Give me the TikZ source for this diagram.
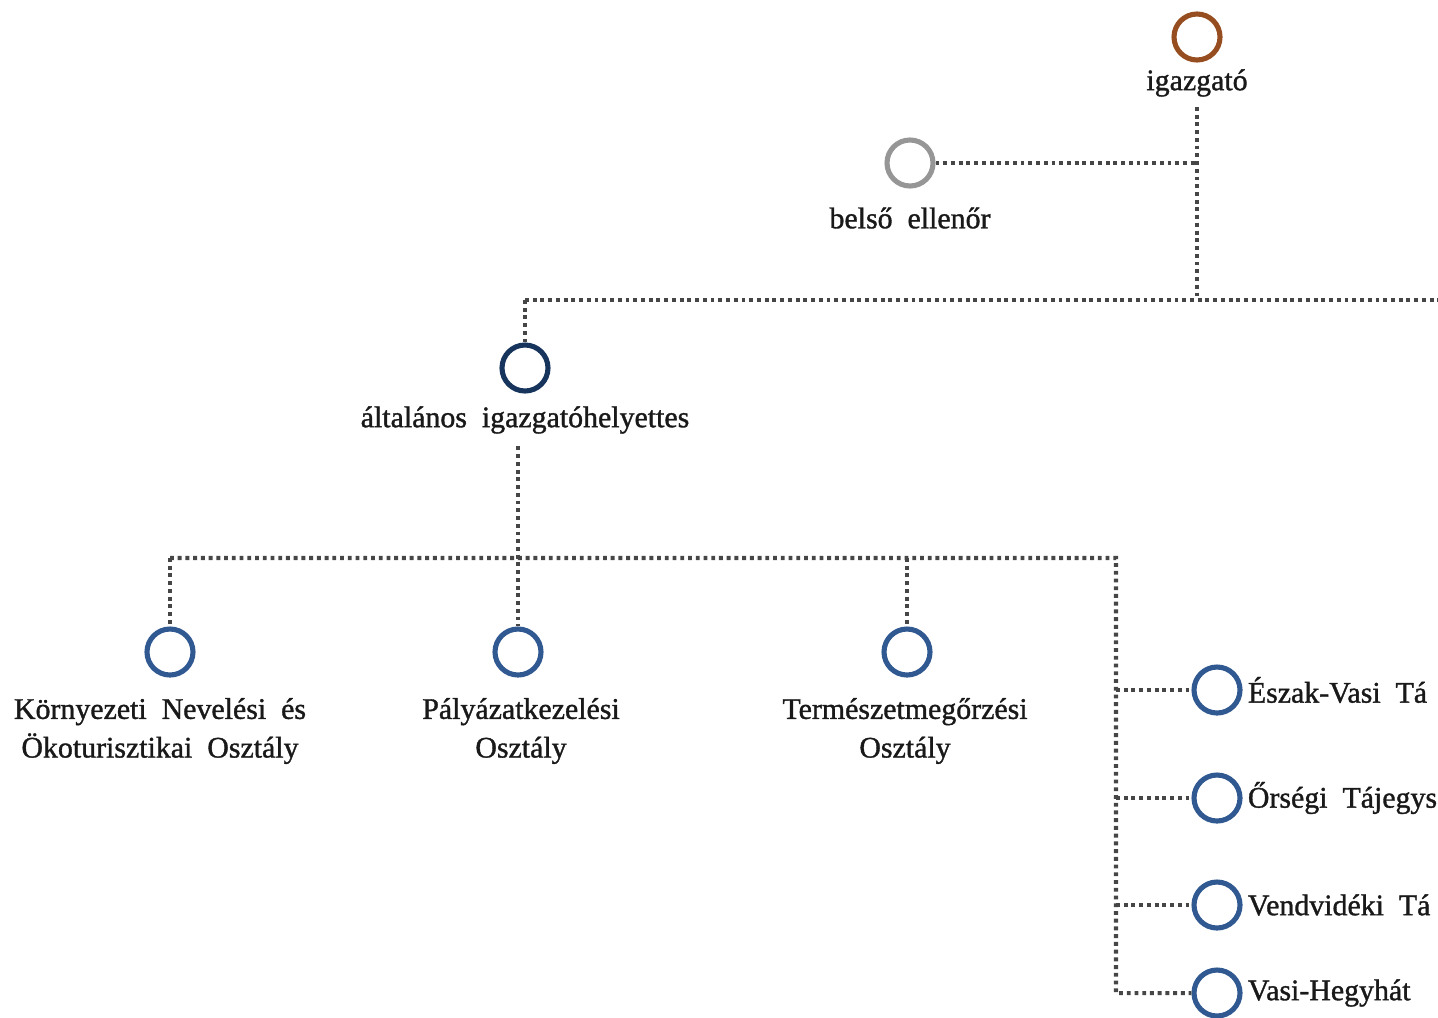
\documentclass[tikz,border=0pt]{standalone}
\usepackage{fontspec}
\setmainfont{Liberation Serif}
\newfontfamily\labelfont[FakeBold=1.2]{Liberation Serif}
\usetikzlibrary{positioning}

\definecolor{igbrown}{RGB}{150,78,32}
\definecolor{ellgrey}{RGB}{150,150,150}
\definecolor{helynavy}{RGB}{22,52,92}
\definecolor{osztblue}{RGB}{48,88,145}
\definecolor{linegrey}{RGB}{70,70,70}

\tikzset{
  unit/.style={circle,draw,line width=2.9pt,minimum size=0.92cm,inner sep=0pt},
  unittext/.style={font=\labelfont\fontsize{17}{22}\selectfont,text=black!90,align=center,inner sep=0pt},
  link/.style={draw=linegrey,line width=2.3pt,dash pattern=on 2.2pt off 2.2pt}
}

\begin{document}
\begin{tikzpicture}[on grid,auto]
	\useasboundingbox (0,0) rectangle (28.76,-20.34);
	% vezetes
	\node[unit,draw=igbrown] (igazgato) at (23.94,-0.74) {};
	\node[unittext] [below=0.92cm of igazgato] (igazgato-t) {igazgató};
	\node[unit,draw=ellgrey] [below left=2.52cm and 5.74cm of igazgato] (belso) {};
	\node[unittext] [below=1.1cm of belso] (belso-t) {belső\ \ ellenőr};
	\node[unit,draw=helynavy] [below left=6.62cm and 13.44cm of igazgato] (altalanos) {};
	\node[unittext] [below=1.04cm of altalanos] (altalanos-t) {általános\ \ igazgatóhelyettes};
	% osztalyok
	\node[unit,draw=osztblue] [below=5.68cm of altalanos, xshift=-0.14cm] (palyazat) {};
	\node[unittext] [below=1.58cm of palyazat, xshift=0.06cm] (palyazat-t) {Pályázatkezelési\\Osztály};
	\node[unit,draw=osztblue] [left=6.96cm of palyazat] (kornyezeti) {};
	\node[unittext] [below=1.58cm of kornyezeti, xshift=-0.2cm] (kornyezeti-t) {Környezeti\ \ Nevelési\ \ és\\Ökoturisztikai\ \ Osztály};
	\node[unit,draw=osztblue] [right=7.78cm of palyazat] (termeszet) {};
	\node[unittext] [below=1.58cm of termeszet, xshift=-0.04cm] (termeszet-t) {Természetmegőrzési\\Osztály};
	% tajegysegek
	\node[unit,draw=osztblue] [below right=0.76cm and 6.2cm of termeszet] (eszak) {};
	\node[unit,draw=osztblue] [below=2.16cm of eszak] (orseg) {};
	\node[unit,draw=osztblue] [below=2.14cm of orseg] (vend) {};
	\node[unit,draw=osztblue] [below=1.76cm of vend] (hegyhat) {};
	\node[unittext,anchor=west] at ([xshift=0.1cm]eszak.east) (eszak-t) {Észak-Vasi\ \ Tá};
	\node[unittext,anchor=west] at ([xshift=0.1cm]orseg.east) (orseg-t) {Őrségi\ \ Tájegys};
	\node[unittext,anchor=west] at ([xshift=0.1cm]vend.east) (vend-t) {Vendvidéki\ \ Tá};
	\node[unittext,anchor=west] at ([xshift=0.1cm]hegyhat.east) (hegyhat-t) {Vasi-Hegyhát};
	% csomopontok
	\coordinate (felso) at (23.94,-6.0);
	\coordinate (jobbszel) at (28.76,-6.0);
	\coordinate (also) at (3.4,-11.16);
	\coordinate (sarok) at (22.32,-11.16);
	\coordinate (gerinc) at (22.32,-19.86);
	% vonalak
	\draw[link] ([yshift=-0.2cm]igazgato-t.south) -- (felso);
	\draw[link] (belso.east) -- (belso -| igazgato);
	\draw[link] (altalanos |- felso) -- (jobbszel);
	\draw[link] (altalanos |- felso) -- (altalanos.north);
	\draw[link] (palyazat |- altalanos-t.south) ++(0,-0.25) -- (palyazat.north);
	\draw[link] (kornyezeti |- also) -- (sarok) -- (gerinc) -- (hegyhat.west);
	\draw[link] (kornyezeti |- also) -- (kornyezeti.north);
	\draw[link] (termeszet |- also) -- (termeszet.north);
	\draw[link] (sarok |- eszak) -- (eszak.west);
	\draw[link] (sarok |- orseg) -- (orseg.west);
	\draw[link] (sarok |- vend) -- (vend.west);
\end{tikzpicture}
\end{document}
